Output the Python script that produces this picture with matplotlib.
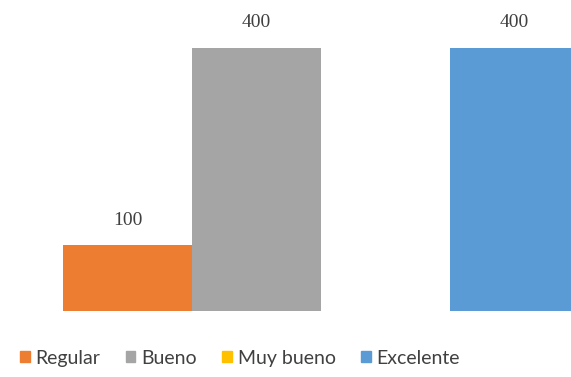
import matplotlib
matplotlib.use("Agg")
import matplotlib.pyplot as plt
from matplotlib.patches import Patch

# datos de la encuesta
categorias = ["Regular", "Bueno", "Muy bueno", "Excelente"]
valores = [100, 400, 0, 400]
colores = ["#ED7D31", "#A5A5A5", "#FFC000", "#5B9BD5"]

fig = plt.figure(figsize=(5.71, 3.77), dpi=100)
ax = fig.add_axes([0, 0.175, 1, 0.698])

posiciones = list(range(len(categorias)))
barras = ax.bar(posiciones, valores, width=1.0, color=colores)

for pos, val in zip(posiciones, valores):
    if val == 0:
        continue
    ax.annotate(str(val), (pos, val), xytext=(0, 18), textcoords="offset points",
                ha="center", va="center", fontsize=14, family="Liberation Serif",
                color="#404040")

ax.set_xlim(-0.988, 3.438)
ax.set_ylim(0, 400)
ax.axis("off")

handles = [Patch(color=c, label=n) for c, n in zip(colores, categorias)]
fig.legend(handles=handles, loc="center", bbox_to_anchor=(0.42, 0.05), ncol=4,
           frameon=False, handlelength=0.5, handleheight=0.5, handletextpad=0.3,
           columnspacing=1.3, prop={"family": "Lato", "size": 14},
           labelcolor="#404040")

fig.savefig("out.png", dpi=100)
